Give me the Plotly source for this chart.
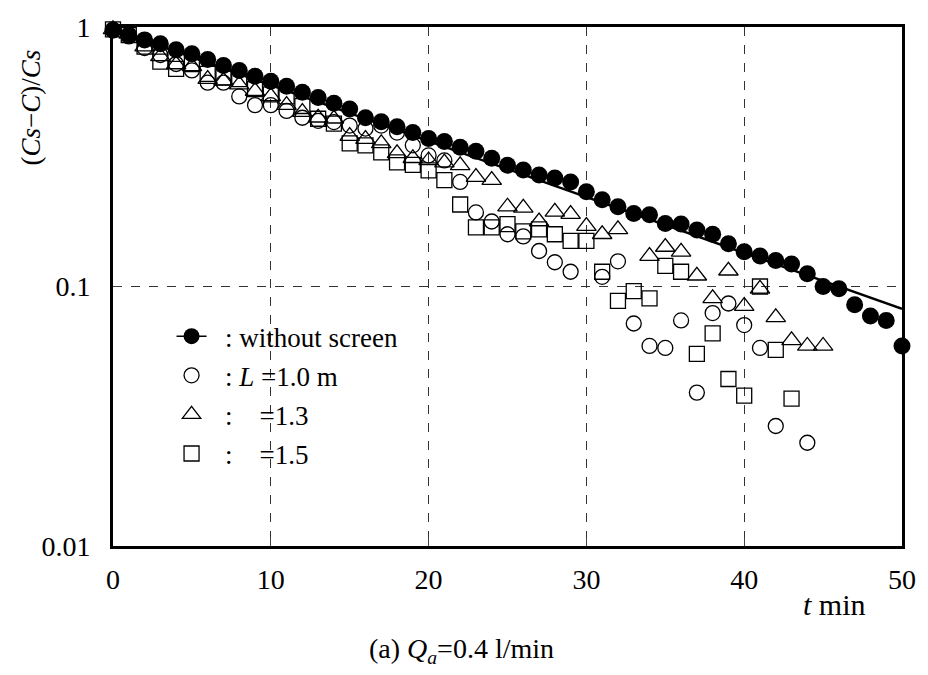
import plotly.graph_objects as go

# Time (min) and dimensionless deficit (Cs - C)/Cs
t_none = list(range(0, 51))
v_none = [0.974, 0.932, 0.892, 0.862, 0.818, 0.789, 0.749, 0.711, 0.680, 0.646,
          0.618, 0.591, 0.561, 0.535, 0.508, 0.483, 0.447, 0.431, 0.413, 0.392,
          0.372, 0.362, 0.344, 0.332, 0.312, 0.293, 0.281, 0.269, 0.262, 0.253,
          0.232, 0.216, 0.203, 0.191, 0.189, 0.175, 0.174, 0.165, 0.159, 0.146,
          0.136, 0.131, 0.126, 0.122, 0.112, 0.100, 0.098, 0.085, 0.077, 0.074,
          0.059]

# Fitted exponential decay for the no-screen case
t_fit = [0, 50]
v_fit = [0.98, 0.082]

t_l10 = [0, 1, 2, 3, 4, 5, 6, 7, 8, 9, 10, 11, 12, 13, 14, 15, 16, 17, 18, 19,
         20, 21, 22, 23, 24, 25, 26, 27, 28, 29, 31, 32, 33, 34, 35, 36, 37, 38,
         39, 40, 41, 42, 44]
v_l10 = [0.97, 0.92, 0.83, 0.78, 0.72, 0.68, 0.61, 0.61, 0.54, 0.50, 0.50, 0.475,
         0.447, 0.435, 0.43, 0.417, 0.406, 0.417, 0.392, 0.35, 0.32, 0.306, 0.253,
         0.193, 0.178, 0.159, 0.156, 0.137, 0.124, 0.114, 0.109, 0.125, 0.072,
         0.059, 0.058, 0.074, 0.039, 0.079, 0.086, 0.071, 0.058, 0.029, 0.025]

t_l13 = [0, 1, 2, 3, 4, 5, 6, 7, 8, 9, 10, 11, 12, 13, 14, 15, 16, 17, 18, 19,
         20, 21, 22, 23, 24, 25, 26, 27, 28, 29, 30, 31, 32, 34, 35, 36, 37, 38,
         39, 40, 41, 42, 43, 44, 45]
v_l13 = [0.98, 0.94, 0.84, 0.77, 0.717, 0.705, 0.63, 0.62, 0.60, 0.566, 0.54, 0.50,
         0.47, 0.447, 0.443, 0.38, 0.37, 0.356, 0.326, 0.312, 0.306, 0.30, 0.293,
         0.264, 0.257, 0.203, 0.201, 0.178, 0.194, 0.19, 0.171, 0.159, 0.166,
         0.131, 0.142, 0.136, 0.110, 0.090, 0.115, 0.084, 0.098, 0.076, 0.062,
         0.059, 0.059]

t_l15 = [0, 1, 2, 3, 4, 5, 6, 7, 8, 9, 10, 11, 12, 13, 14, 15, 16, 17, 18, 19,
         20, 21, 22, 23, 24, 25, 26, 27, 28, 29, 30, 31, 32, 33, 34, 35, 36, 37,
         38, 39, 40, 41, 42, 43]
v_l15 = [0.98, 0.93, 0.84, 0.736, 0.69, 0.72, 0.66, 0.64, 0.63, 0.576, 0.55, 0.54,
         0.496, 0.443, 0.424, 0.356, 0.35, 0.329, 0.301, 0.294, 0.28, 0.257, 0.207,
         0.169, 0.169, 0.174, 0.163, 0.166, 0.159, 0.15, 0.15, 0.114, 0.088, 0.096,
         0.09, 0.12, 0.114, 0.055, 0.066, 0.044, 0.038, 0.1, 0.057, 0.037]

x_ticks = [0, 10, 20, 30, 40, 50]
y_ticks = [0.01, 0.1, 1]
y_tick_text = ["0.01", "0.1", "1"]

SERIF = "Liberation Serif"
NB = "\u00a0"

# figure geometry (pixels)
W, H = 928, 675
L, R, T, B = 113, 20, 20, 129
pw, ph = W - L - R, H - T - B


def px(x):
    return (x - L) / pw


def py(y):
    return (H - B - y) / ph


fig = go.Figure()

fig.add_trace(go.Scatter(
    x=t_l10, y=v_l10, mode="markers", name=NB * 2 + ": <i>L</i> =1.0 m",
    legendgroup="b", legendrank=2, cliponaxis=False,
    marker=dict(symbol="circle-open", size=15, color="black", line=dict(width=1.3))))
fig.add_trace(go.Scatter(
    x=t_l13, y=v_l13, mode="markers", name=NB * 2 + ":" + NB * 4 + "=1.3",
    legendgroup="c", legendrank=3, cliponaxis=False,
    marker=dict(symbol="triangle-up-open", size=17, color="black", line=dict(width=1.3))))
fig.add_trace(go.Scatter(
    x=t_l15, y=v_l15, mode="markers", name=NB * 2 + ":" + NB * 4 + "=1.5",
    legendgroup="d", legendrank=4, cliponaxis=False,
    marker=dict(symbol="square-open", size=15, color="black", line=dict(width=1.3))))
fig.add_trace(go.Scatter(
    x=t_fit, y=v_fit, mode="lines", showlegend=False,
    line=dict(color="black", width=2.5)))
fig.add_trace(go.Scatter(
    x=t_none, y=v_none, mode="markers", showlegend=False, cliponaxis=False,
    marker=dict(symbol="circle", size=17, color="black")))
# legend entry for the no-screen series (marker with the fit line through it)
fig.add_trace(go.Scatter(
    x=[None], y=[None], mode="lines+markers", name=NB * 2 + ": without screen",
    legendgroup="a", legendrank=1,
    marker=dict(symbol="circle", size=16, color="black"),
    line=dict(color="black", width=1.5)))

fig.update_layout(
    width=W, height=H,
    margin=dict(l=L, r=R, t=T, b=B),
    paper_bgcolor="white", plot_bgcolor="white",
    font=dict(family=SERIF, size=27, color="black"),
    showlegend=True,
    legend=dict(
        x=px(172), y=py(309), xanchor="left", yanchor="top",
        bgcolor="rgba(0,0,0,0)", borderwidth=0,
        font=dict(family=SERIF, size=27, color="black"),
        tracegroupgap=1, traceorder="grouped", itemwidth=30),
    xaxis=dict(
        range=[0, 50], tickvals=x_ticks, ticks="inside", ticklen=8, tickwidth=1,
        showline=True, linewidth=3, linecolor="black", mirror=True,
        showgrid=True, gridcolor="#333", gridwidth=1, griddash="dash",
        zeroline=False, ticklabelstandoff=6,
        tickfont=dict(family=SERIF, size=28)),
    yaxis=dict(
        type="log", range=[-2, 0], tickvals=y_ticks, ticktext=y_tick_text,
        ticks="inside", ticklen=8, tickwidth=1,
        showline=True, linewidth=3, linecolor="black", mirror=True,
        showgrid=True, gridcolor="#333", gridwidth=1, griddash="dash",
        zeroline=False, ticklabelstandoff=14,
        tickfont=dict(family=SERIF, size=28)),
    annotations=[
        dict(text="(<i>Cs</i>\u2212<i>C</i>)/<i>Cs</i>", xref="paper", yref="paper",
             x=px(30), y=py(102), xanchor="center", yanchor="middle",
             textangle=-90, showarrow=False,
             font=dict(family=SERIF, size=27)),
        dict(text="<i>t</i> min", xref="paper", yref="paper",
             x=px(840), y=py(605), xanchor="center", yanchor="middle",
             showarrow=False, font=dict(family=SERIF, size=30)),
        dict(text="(a) <i>Q</i><sub><i>a</i></sub>=0.4 l/min", xref="paper",
             yref="paper", x=px(464), y=py(652), xanchor="center", yanchor="middle",
             showarrow=False, font=dict(family=SERIF, size=28)),
    ],
)

fig.write_html("out.html")
